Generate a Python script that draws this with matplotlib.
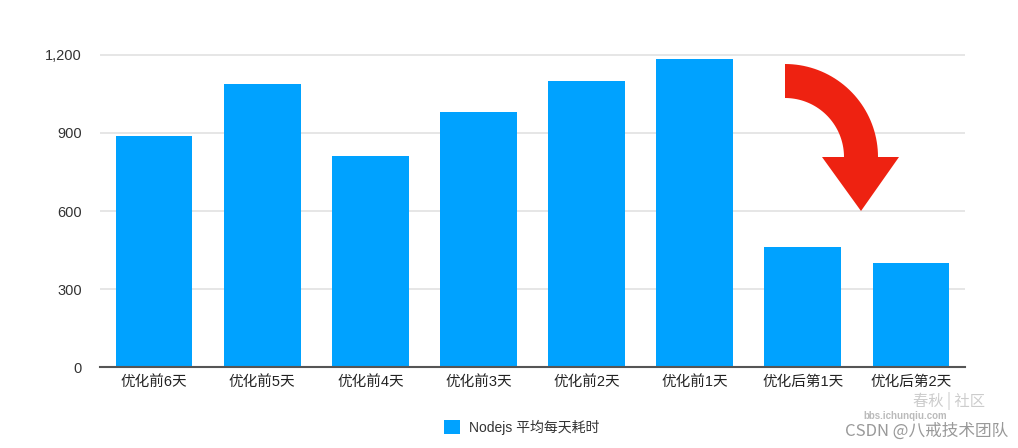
import numpy as np
import matplotlib.pyplot as plt
from matplotlib.patches import Polygon
from matplotlib.ticker import FuncFormatter

plt.rcParams['font.family'] = ['Liberation Sans', 'Noto Sans CJK SC', 'DejaVu Sans']

# data
days = ['优化前6天', '优化前5天', '优化前4天', '优化前3天', '优化前2天', '优化前1天', '优化后第1天', '优化后第2天']
cost = [890, 1090, 810, 980, 1100, 1185, 460, 400]
series_name = 'Nodejs 平均每天耗时'
yticks = [0, 300, 600, 900, 1200]

W, H = 1018, 448
fig = plt.figure(figsize=(W / 100, H / 100), dpi=100)
ax = fig.add_axes([100 / W, 1 - 367 / H, 865 / W, 325 / H])

x = np.arange(len(days))
ax.bar(x, cost, width=0.71, color='#00a2ff', label=series_name, zorder=3)

ax.set_xlim(-0.5, len(days) - 0.5)
ax.set_ylim(0, 1250)
ax.set_yticks(yticks)
ax.yaxis.set_major_formatter(FuncFormatter(lambda v, p: f'{int(v):,}'))
ax.set_xticks(x)
ax.set_xticklabels(days)
ax.grid(axis='y', color='#e2e2e2', linewidth=1.2, zorder=0)
for s in ['top', 'right', 'left']:
    ax.spines[s].set_visible(False)
ax.spines['bottom'].set_color('#555555')
ax.spines['bottom'].set_linewidth(1.5)
ax.spines['bottom'].set_zorder(4)
ax.tick_params(axis='y', length=0, pad=13, labelsize=10.5, labelcolor='#333333')
ax.tick_params(axis='x', length=0, pad=6, labelsize=10.5, labelcolor='#222222')

leg = fig.legend(loc='center', bbox_to_anchor=(522 / W, 1 - 427 / H), frameon=False,
                 fontsize=10, handlelength=1.1, handleheight=1.1, handletextpad=0.7)
for t in leg.get_texts():
    t.set_color('#333333')

# red curved arrow (pixel coords from top-left)
cx, cy, r_out, r_in = 785, 157, 93, 59
ang = np.linspace(np.pi / 2, 0, 40)
outer = [(cx + r_out * np.cos(a), cy - r_out * np.sin(a)) for a in ang]
inner = [(cx + r_in * np.cos(a), cy - r_in * np.sin(a)) for a in ang[::-1]]
head = [(cx + r_out, cy), (899, cy), (861, 211), (822, cy), (cx + r_in, cy)]
pts = outer + head + inner
pts = [(px / W, 1 - py / H) for px, py in pts]
fig.patches.append(Polygon(pts, closed=True, transform=fig.transFigure,
                           facecolor='#ee2211', edgecolor='none', zorder=5))

# watermarks
cjk = ['Noto Sans CJK SC', 'DejaVu Sans']
fig.text(1008 / W, 1 - 431 / H, 'CSDN @八戒技术团队', ha='right', va='center',
         fontsize=12, color='#999999', family=cjk)
fig.text(905 / W, 1 - 416 / H, 'bbs.ichunqiu.com', ha='center', va='center',
         fontsize=7, color='#bbbbbb', fontweight='bold')
fig.text(985 / W, 1 - 401 / H, '春秋 | 社区', ha='right', va='center',
         fontsize=11, color='#cccccc', family=cjk)

fig.savefig('out.png', dpi=100)
